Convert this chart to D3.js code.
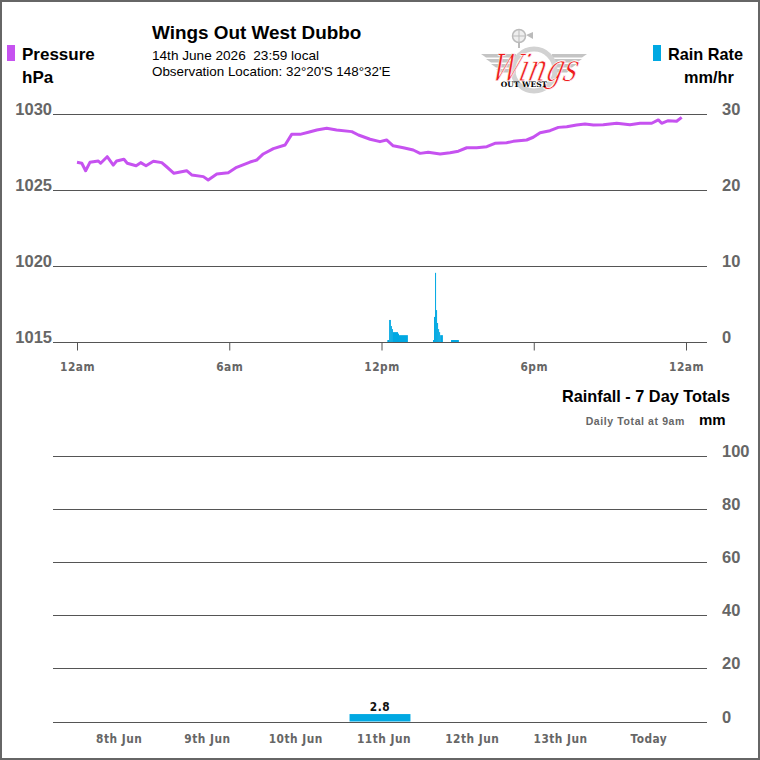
<!DOCTYPE html>
<html lang="en">
  <head>
    <meta charset="UTF-8" />
    <title>Wings Out West Dubbo</title>
    <style>
      body {
        margin: 0;
        background: #fff;
      }
      svg {
        display: block;
        font-family: "Liberation Sans", Arial, sans-serif;
      }
      .grid {
        stroke: #555;
        stroke-width: 1;
      }
      .val {
        fill: #666;
        font-weight: bold;
        font-size: 16.5px;
      }
      .tick-lbl {
        fill: #666;
        font-weight: bold;
        font-size: 11.8px;
        font-family: "Liberation Sans Narrow", "DejaVu Sans Condensed", sans-serif;
        letter-spacing: 0.5px;
      }
    </style>
  </head>
  <body>
    <svg width="760" height="760"></svg>

    <script src="https://d3js.org/d3.v7.min.js"></script>
    <script>
      // pressure readings (hour of day, hPa)
      const pressureHours = [
        0.0, 0.19, 0.34, 0.51, 0.84, 0.93, 1.19, 1.43, 1.56, 1.85, 1.98, 2.33,
        2.51, 2.72, 3.01, 3.34, 3.53, 3.82, 4.32, 4.52, 4.98, 5.17, 5.51, 5.96,
        6.29, 6.82, 7.08, 7.34, 7.74, 8.2, 8.46, 8.79, 9.12, 9.45, 9.84, 10.23,
        10.83, 11.09, 11.55, 11.94, 12.2, 12.46, 12.86, 13.25, 13.52, 13.84,
        14.31, 14.7, 15.03, 15.36, 15.75, 16.15, 16.47, 16.93, 17.19, 17.72,
        17.98, 18.25, 18.64, 18.97, 19.3, 19.69, 20.02, 20.35, 20.74, 21.27,
        21.79, 22.19, 22.65, 22.91, 23.04, 23.3, 23.63, 23.83,
      ];
      const pressureValues = [
        1026.82, 1026.76, 1026.27, 1026.82, 1026.91, 1026.76, 1027.19, 1026.64,
        1026.91, 1027.02, 1026.76, 1026.6, 1026.8, 1026.6, 1026.89, 1026.8,
        1026.53, 1026.1, 1026.27, 1025.99, 1025.88, 1025.66, 1026.05, 1026.14,
        1026.49, 1026.84, 1026.97, 1027.37, 1027.72, 1027.96, 1028.66, 1028.66,
        1028.8, 1028.95, 1029.06, 1028.95, 1028.84, 1028.62, 1028.34, 1028.18,
        1028.29, 1027.91, 1027.78, 1027.63, 1027.41, 1027.48, 1027.37, 1027.45,
        1027.55, 1027.78, 1027.78, 1027.85, 1028.07, 1028.11, 1028.2, 1028.29,
        1028.47, 1028.77, 1028.9, 1029.12, 1029.16, 1029.28, 1029.34, 1029.28,
        1029.3, 1029.39, 1029.3, 1029.39, 1029.39, 1029.61, 1029.39, 1029.56,
        1029.52, 1029.78,
      ];

      // rain rate samples: start hour, end hour, mm/hr
      const rainStart = [
        12.23, 12.3, 12.37, 12.41, 12.45, 12.65, 12.69,
        14.03, 14.07, 14.11, 14.15, 14.19, 14.23, 14.27, 14.31,
        14.74,
      ];
      const rainEnd = [
        12.3, 12.37, 12.41, 12.45, 12.65, 12.69, 13.04,
        14.07, 14.11, 14.15, 14.19, 14.23, 14.27, 14.31, 14.42,
        15.05,
      ];
      const rainRate = [
        0.26, 2.9, 2.1, 1.7, 1.3, 1.1, 0.9,
        0.26, 3.3, 9.1, 4.2, 2.5, 1.7, 1.3, 0.9,
        0.26,
      ];

      const pressureTicks = [1015, 1020, 1025, 1030];
      const rateTicks = [0, 10, 20, 30];
      const hourTicks = [0, 6, 12, 18, 24];
      const hourLabels = ["12am", "6am", "12pm", "6pm", "12am"];

      // 7 day rainfall totals
      const days = ["8th Jun", "9th Jun", "10th Jun", "11th Jun", "12th Jun", "13th Jun", "Today"];
      const dailyRain = [0, 0, 0, 2.8, 0, 0, 0];
      const totalTicks = [0, 20, 40, 60, 80, 100];

      const svg = d3.select("svg");
      const purple = "#c652f0";
      const blue = "#00a8e2";

      // frame
      svg.append("rect")
        .attr("x", 1).attr("y", 1).attr("width", 758).attr("height", 758)
        .attr("fill", "none").attr("stroke", "#666").attr("stroke-width", 2);

      // ---------- top chart ----------
      const x = d3.scaleLinear().domain([0, 24]).range([77, 686]);
      const yP = d3.scaleLinear().domain([1015, 1030]).range([342, 114]);
      const yR = d3.scaleLinear().domain([0, 30]).range([342, 114]);

      svg.append("g").selectAll("line").data(pressureTicks).join("line")
        .attr("class", "grid")
        .attr("x1", 53).attr("x2", 707)
        .attr("y1", (d) => yP(d) + 0.5).attr("y2", (d) => yP(d) + 0.5);

      svg.append("g").selectAll("text").data(pressureTicks).join("text")
        .attr("class", "val")
        .attr("x", 52).attr("y", (d) => yP(d) + 1)
        .attr("text-anchor", "end")
        .text((d) => d);

      svg.append("g").selectAll("text").data(rateTicks).join("text")
        .attr("class", "val")
        .attr("x", 722).attr("y", (d) => yR(d) + 1)
        .text((d) => d);

      // hour axis
      const xAxis = d3.axisBottom(x)
        .tickValues(hourTicks)
        .tickSize(8)
        .tickFormat((d, i) => hourLabels[i]);
      const gx = svg.append("g")
        .attr("transform", "translate(0,342.5)")
        .call(xAxis);
      gx.select(".domain").remove();
      gx.selectAll(".tick line").attr("stroke", "#555");
      gx.selectAll(".tick text")
        .attr("class", "tick-lbl")
        .attr("y", 20)
        .attr("dy", "0.71em");

      // rain rate bars
      svg.append("g").selectAll("rect").data(rainRate).join("rect")
        .attr("x", (d, i) => x(rainStart[i]))
        .attr("width", (d, i) => x(rainEnd[i]) - x(rainStart[i]))
        .attr("y", (d) => yR(d))
        .attr("height", (d) => yR(0) - yR(d))
        .attr("fill", blue);

      // pressure line
      const pts = pressureHours.map((h, i) => [h, pressureValues[i]]);
      svg.append("path")
        .datum(pts)
        .attr("fill", "none")
        .attr("stroke", purple)
        .attr("stroke-width", 3)
        .attr("stroke-linejoin", "round")
        .attr("d", d3.line().x((d) => x(d[0])).y((d) => yP(d[1])));

      // ---------- headings and legends ----------
      svg.append("rect").attr("x", 7).attr("y", 45).attr("width", 8).attr("height", 16).attr("fill", purple);
      svg.append("text").attr("x", 22).attr("y", 60)
        .attr("font-weight", "bold").attr("font-size", 17).text("Pressure");
      svg.append("text").attr("x", 22).attr("y", 83)
        .attr("font-weight", "bold").attr("font-size", 17).text("hPa");

      svg.append("rect").attr("x", 653).attr("y", 45).attr("width", 8).attr("height", 16).attr("fill", blue);
      svg.append("text").attr("x", 668).attr("y", 60)
        .attr("font-weight", "bold").attr("font-size", 16.3).text("Rain Rate");
      svg.append("text").attr("x", 684).attr("y", 83)
        .attr("font-weight", "bold").attr("font-size", 16.3).text("mm/hr");

      svg.append("text").attr("x", 152).attr("y", 39)
        .attr("font-weight", "bold").attr("font-size", 18.9).text("Wings Out West Dubbo");
      svg.append("text").attr("x", 152).attr("y", 60)
        .attr("font-size", 13.6).attr("xml:space", "preserve").text("14th June 2026  23:59 local");
      svg.append("text").attr("x", 152).attr("y", 76)
        .attr("font-size", 13.4).text("Observation Location:\u00a032°20'S 148°32'E");

      // logo (simplified)
      const logo = svg.append("g").attr("transform", "translate(534,62)");
      // wings: four tapered stripes each side
      [[-8, 0], [-3, 5], [2, 10], [7, 15]].forEach(([dy, inset]) => {
        logo.append("path")
          .attr("d", `M${-53 + inset},${dy} L-18,${dy} L-18,${dy + 3.5} L${-48 + inset},${dy + 3.5} Z`)
          .attr("fill", "#c4c4c4");
        logo.append("path")
          .attr("d", `M${53 - inset},${dy} L18,${dy} L18,${dy + 3.5} L${48 - inset},${dy + 3.5} Z`)
          .attr("fill", "#c4c4c4");
      });
      logo.append("circle").attr("cx", 0).attr("cy", 8).attr("r", 21)
        .attr("fill", "none").attr("stroke", "#d2d2d2").attr("stroke-width", 5);
      // windmill
      logo.append("line").attr("x1", -15).attr("x2", -15).attr("y1", -14).attr("y2", -26)
        .attr("stroke", "#bbb").attr("stroke-width", 2);
      logo.append("circle").attr("cx", -15).attr("cy", -26).attr("r", 6.5)
        .attr("fill", "#eee").attr("stroke", "#bbb").attr("stroke-width", 1.5);
      logo.append("path").attr("d", "M-15,-32 L-15,-20 M-21,-26 L-9,-26").attr("stroke", "#bbb").attr("stroke-width", 1);
      logo.append("path").attr("d", "M-8,-27 L-1,-30 L-1,-23 Z").attr("fill", "#bbb");
      logo.append("text")
        .attr("transform", "translate(-1,19) scale(0.72,1) skewX(-18)")
        .attr("text-anchor", "middle")
        .attr("font-family", "DejaVu Serif, serif")
        .attr("font-style", "italic").attr("font-size", 38)
        .attr("fill", "#ee1c1c").attr("stroke", "#fff").attr("stroke-width", 0.8)
        .text("Wings");
      logo.append("text").attr("x", -10).attr("y", 25)
        .attr("text-anchor", "middle")
        .attr("font-family", "DejaVu Serif, serif")
        .attr("font-weight", "bold").attr("font-size", 7.5)
        .text("OUT WEST");

      // ---------- bottom chart ----------
      const xb = d3.scaleBand().domain(days).range([71, 689]).paddingInner(0.31).paddingOuter(0.155);
      const yb = d3.scaleLinear().domain([0, 100]).range([721.5, 456]);

      svg.append("g").selectAll("line").data(totalTicks).join("line")
        .attr("class", "grid")
        .attr("x1", 53).attr("x2", 707)
        .attr("y1", (d) => Math.round(yb(d)) + 0.5).attr("y2", (d) => Math.round(yb(d)) + 0.5);

      svg.append("g").selectAll("text").data(totalTicks).join("text")
        .attr("class", "val")
        .attr("x", 722).attr("y", (d) => yb(d) + 1)
        .text((d) => d);

      svg.append("g").selectAll("rect").data(dailyRain).join("rect")
        .attr("x", (d, i) => xb(days[i]))
        .attr("width", xb.bandwidth())
        .attr("y", (d) => yb(d))
        .attr("height", (d) => yb(0) - yb(d))
        .attr("fill", blue);

      svg.append("g").selectAll("text").data(dailyRain.filter((d) => d > 0)).join("text")
        .attr("class", "tick-lbl")
        .style("fill", "#111")
        .attr("x", xb(days[dailyRain.indexOf(2.8)]) + xb.bandwidth() / 2)
        .attr("y", (d) => yb(d) - 3)
        .attr("text-anchor", "middle")
        .text((d) => d.toFixed(1));

      const gb = svg.append("g")
        .attr("transform", "translate(0,722)")
        .call(d3.axisBottom(xb).tickSize(0));
      gb.select(".domain").remove();
      gb.selectAll(".tick text")
        .attr("class", "tick-lbl")
        .attr("x", 4)
        .attr("y", 13)
        .attr("dy", "0.71em");

      svg.append("text").attr("x", 730).attr("y", 402)
        .attr("text-anchor", "end")
        .attr("font-weight", "bold").attr("font-size", 16.3).text("Rainfall - 7 Day Totals");
      svg.append("text").attr("x", 685).attr("y", 425)
        .attr("text-anchor", "end")
        .attr("fill", "#666").attr("font-weight", "bold").attr("font-size", 10.5)
        .attr("letter-spacing", 0.6).text("Daily Total at 9am");
      svg.append("text").attr("x", 699).attr("y", 425)
        .attr("font-weight", "bold").attr("font-size", 15).text("mm");
    </script>
  </body>
</html>
